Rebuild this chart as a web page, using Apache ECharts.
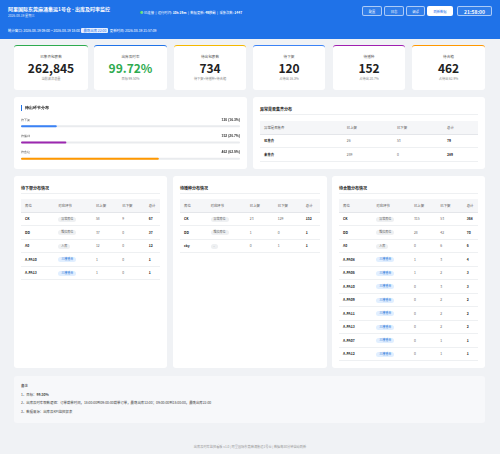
<!DOCTYPE html>
<html><head><meta charset="utf-8">
<script src="https://cdn.jsdelivr.net/npm/echarts@6/dist/echarts.min.js"></script>
<style>
*{box-sizing:border-box;margin:0;padding:0}
body{width:500px;height:454px;background:#f0f2f5;font-family:"Noto Sans CJK SC","Noto Sans",sans-serif;position:relative;overflow:hidden;color:#333}
.hdr{position:absolute;left:0;top:0;width:500px;height:39px;background:#1f72e8;color:#fff}
.abs{position:absolute}
.card{position:absolute;background:#fff;border-radius:3px}
.kpi{top:45px;height:45px;text-align:center;border-top:1.5px solid}
.kpi .t{font-size:3.6px;color:#555;margin-top:8px}
.kpi .v{font-size:12px;font-weight:bold;color:#222;line-height:14px;margin-top:2px}
.kpi .s{font-size:3.2px;color:#888;margin-top:1px}
.btn{position:absolute;top:6px;height:10px;border:0.5px solid rgba(255,255,255,.6);border-radius:2px;font-size:3.3px;text-align:center;line-height:9px;color:#fff;background:rgba(255,255,255,.08)}
.ttl{position:absolute;left:7px;top:8.5px;font-size:4px;font-weight:bold;color:#222}
table{position:absolute;border-collapse:collapse;font-size:3.4px}
th{background:#f5f6f8;font-weight:normal;color:#555;text-align:left;height:13px;padding-left:4px;border-bottom:0.6px solid #e4e6ea}
td{height:13.5px;padding-left:4px;border-bottom:0.4px solid #eef0f2;color:#666}
td.b{font-weight:bold;color:#222}
.tag{display:inline-block;background:#eef0f2;border-radius:3px;padding:0 3px;font-size:3px;color:#666;line-height:5px}
.tag.bl{background:#e1efff;color:#2a74d8}
.line{position:absolute;left:7px;right:7px;top:17px;border-top:0.5px solid #eef0f2}
</style></head><body>
<div class="hdr">
 <div class="abs" style="left:8px;top:5px;font-size:5px;font-weight:bold">阿里国际东莞麻涌集运1号仓 - 出库及时率监控</div>
 <div class="abs" style="left:8px;top:13px;font-size:3.2px;opacity:.85">2026-08-19 星期三</div>
 <div class="abs" style="left:140px;top:10px;font-size:3.3px;white-space:nowrap"><span style="color:#6ee07a">●</span> 已连接 &nbsp;|&nbsp; 运行时间: <b>10h 19m</b> &nbsp;|&nbsp; 数据更新: <b>49秒前</b> &nbsp;|&nbsp; 采集次数: <b>1447</b></div>
 <div class="btn" style="left:362px;width:20px">配置</div>
 <div class="btn" style="left:384px;width:20px">日志</div>
 <div class="btn" style="left:406px;width:19px">调试</div>
 <div class="btn" style="left:427px;width:26px;background:#fff;color:#1f72e8">刷新数据</div>
 <div class="btn" style="left:457px;width:35px;font-size:5px;font-weight:bold">21:58:00</div>
 <div class="abs" style="left:8px;top:28px;font-size:3.4px;white-space:nowrap">统计窗口: 2026-08-19 09:00 ~ 2026-08-19 18:00 &nbsp;<span style="background:#e8f0ff;color:#1f72e8;border-radius:1px;padding:0 2px">最晚出库 22:00</span>&nbsp; 更新时间: 2026-08-19 21:57:09</div>
</div>
<div id="kpis"></div>
<div class="card" style="left:14px;top:97px;width:233px;height:72px"><div id="dist" style="width:233px;height:72px"></div></div>
<div class="card" style="left:253px;top:97px;width:232px;height:72px" id="exc"></div>
<div class="card" style="left:14px;top:176px;width:153px;height:192px" id="t1"></div>
<div class="card" style="left:173px;top:176px;width:154px;height:192px" id="t2"></div>
<div class="card" style="left:332px;top:176px;width:153px;height:192px" id="t3"></div>
<div class="card" style="left:14px;top:376px;width:471px;height:47px;background:#f7f8fa;font-size:3.4px;color:#444;padding:6px 7px;line-height:8.6px">
 <div style="font-weight:bold">备注</div>
 <div>1、目标：<b>99.50%</b></div>
 <div>2、出库及时率取数逻辑：订单截单时间，18:00:00到09:00:00截单订单，最晚出库13:00；09:00:00到18:00:00，最晚出库22:00</div>
 <div>3、数据来源：出库及KPI监控报表</div>
</div>
<div class="abs" style="left:0;width:500px;top:444px;text-align:center;font-size:3.2px;color:#999">出库及时率监控看板 v1.0 | 阿里国际东莞麻涌集运1号仓 | 数据每30分钟自动刷新</div>
<script>
const kpiTitles=['已集齐包裹数','出库及时率','待出包裹数','待下架','待播种','待合箱'];
const kpiValues=['262,845','99.72%','734','120','152','462'];
const kpiSubs=['当前波次总量','目标 99.50%','待下架+待播种+待合箱','占待出 16.3%','占待出 20.7%','占待出 62.9%'];
const kpiColors=['#2eab4f','#1f72e8','#f5b800','#3b82f6','#a020b0','#ff9800'];
const kpiX=[[14,74],[94,73],[174,72],[253,72],[333,72],[412,73]];
const stages=['待下架','待播种','待合箱'];
const stageCounts=[120,152,462];
const stagePct=['16.3%','20.7%','62.9%'];
const stageColors=['#3b82f6','#9c27b0','#ff9800'];
const excHead=['异常是否集齐','已上架','已下架','总计'];
const excRows=[['已集齐',26,53,79],['未集齐',289,0,289]];
const tblHead=['库位','对应环节','已上架','已下架','总计'];
const t1Rows=[['CK','异常库位',58,9,67],['DD','维拉库位',37,0,37],['A0','入库',12,0,12],['A-PA10','三楼播合',1,0,1],['A-PA13','三楼播合',1,0,1]];
const t2Rows=[['CK','异常库位',23,129,152],['DD','维拉库位',1,0,1],['cky','-',0,1,1]];
const t3Rows=[['CK','异常库位',315,53,368],['DD','维拉库位',28,42,70],['A0','入库',0,6,6],['A-PA08','三楼播合',1,3,4],['A-PA06','三楼播合',1,2,3],['A-PA10','三楼播合',0,3,3],['A-PA09','三楼播合',0,2,2],['A-PA11','三楼播合',0,2,2],['A-PA13','三楼播合',0,2,2],['A-PA07','三楼播合',0,1,1],['A-PA12','三楼播合',0,1,1]];

let h='';
kpiTitles.forEach((t,i)=>{h+=`<div class="card kpi" style="left:${kpiX[i][0]}px;width:${kpiX[i][1]}px;border-color:${kpiColors[i]}"><div class="t">${t}</div><div class="v" style="${i==1?'color:#2eab4f':''}">${kpiValues[i]}</div><div class="s">${kpiSubs[i]}</div></div>`});
document.getElementById('kpis').innerHTML=h;

function mkTable(el,title,head,rows,widths,top){
 let s=`<div class="ttl">${title}</div><div class="line"></div><table style="left:7px;top:${top}px;width:${el.offsetWidth-14}px"><tr>`;
 head.forEach((c,i)=>s+=`<th style="width:${widths[i]}%">${c}</th>`);s+='</tr>';
 rows.forEach(r=>{s+='<tr>';r.forEach((c,i)=>{
  if(i==0) s+=`<td class="b">${c}</td>`;
  else if(i==1&&head.length==5) s+=`<td><span class="tag ${c=='三楼播合'?'bl':''}">${c}</span></td>`;
  else if(i==r.length-1) s+=`<td class="b">${c}</td>`;
  else s+=`<td>${c}</td>`;});s+='</tr>';});
 el.innerHTML=s+'</table>';
}
mkTable(document.getElementById('exc'),'异常是否集齐分布',excHead,excRows,[38,23,23,16],24);
mkTable(document.getElementById('t1'),'待下架分布情况',tblHead,t1Rows,[24,27,19,19,11],23);
mkTable(document.getElementById('t2'),'待播种分布情况',tblHead,t2Rows,[19,28,20,20,13],23);
mkTable(document.getElementById('t3'),'待合箱分布情况',tblHead,t3Rows,[24,27,19,19,11],23);

const total=stageCounts.reduce((a,b)=>a+b,0);
const c=echarts.init(document.getElementById('dist'),null,{renderer:'canvas'});
c.setOption({
 animation:false,
 graphic:[{type:'rect',left:7,top:8,shape:{width:1,height:6},style:{fill:'#1f72e8'}},
  {type:'text',left:11,top:8.5,style:{text:'待出环节分布',fontSize:4,fontWeight:'bold',fill:'#222'}}],
 grid:{left:7,right:7,top:21,height:49},
 xAxis:{type:'value',max:total,show:false},
 yAxis:{type:'category',data:stages,inverse:true,show:false},
 series:[
  {type:'bar',data:stageCounts.map((v,i)=>({value:v,itemStyle:{color:stageColors[i]}})),barWidth:2,
   showBackground:true,backgroundStyle:{color:'#e9ebee',borderRadius:1},itemStyle:{borderRadius:1},
   label:{show:true,position:[0,-7],fontSize:3.4,color:'#555',formatter:p=>stages[p.dataIndex]},z:3},
  {type:'bar',data:stageCounts.map(()=>total),barWidth:2,barGap:'-100%',itemStyle:{color:'transparent'},silent:true,
   label:{show:true,position:['100%',-7],align:'right',fontSize:3.4,fontWeight:'bold',color:'#333',
   formatter:p=>stageCounts[p.dataIndex]+' ('+stagePct[p.dataIndex]+')'},z:1}
 ]
});
</script>
</body></html>
